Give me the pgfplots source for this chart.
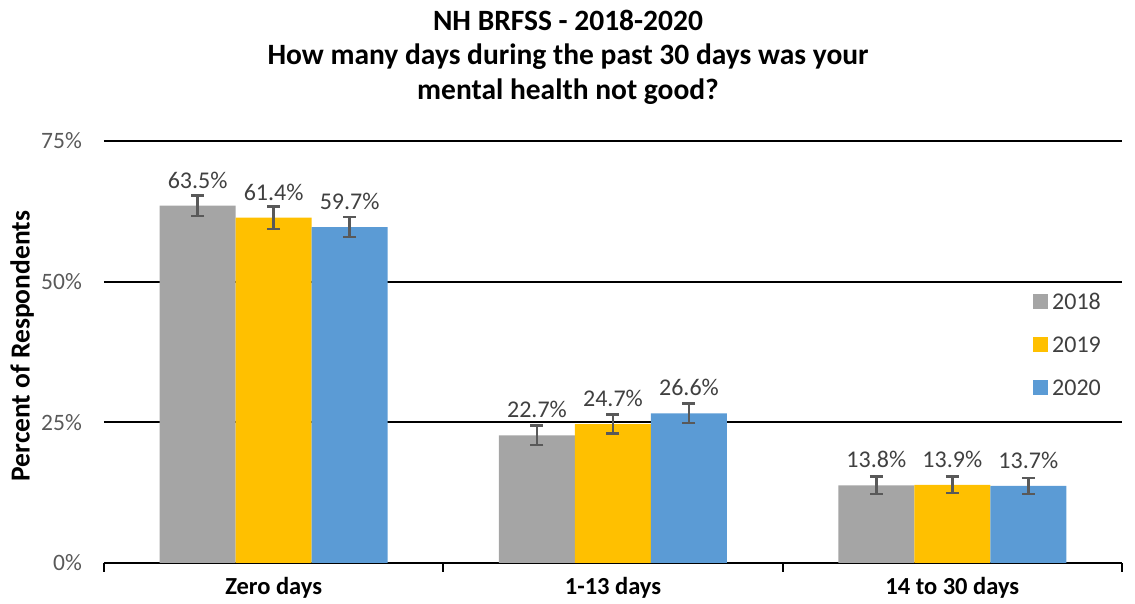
\documentclass[border=0pt]{standalone}
\usepackage{pgfplots}
\pgfplotsset{compat=1.18}
\usepackage{fontspec}
\setmainfont{Carlito}
\definecolor{c18}{HTML}{A5A5A5}
\definecolor{c19}{HTML}{FFC000}
\definecolor{c20}{HTML}{5B9BD5}
\definecolor{errc}{HTML}{595959}
\definecolor{tickc}{HTML}{595959}
\definecolor{lblc}{HTML}{404040}
\pgfplotstableread{
x y e
0 63.5 1.85
1 22.7 1.7
2 13.8 1.55
}\dataA
\pgfplotstableread{
x y e
0 61.4 2.0
1 24.7 1.7
2 13.9 1.5
}\dataB
\pgfplotstableread{
x y e
0 59.7 1.8
1 26.6 1.75
2 13.7 1.4
}\dataC
\begin{document}
\begin{tikzpicture}
\useasboundingbox (-104pt,-41pt) rectangle (1031pt,563pt);
\begin{axis}[
  at={(0pt,0pt)}, anchor=south west,
  scale only axis, width=1018pt, height=422pt,
  xmin=-0.5, xmax=2.5, ymin=0, ymax=75,
  clip=false,
  ybar=0pt, bar width=76pt,
  /pgf/number format/assume math mode=true,
  axis x line*=bottom, axis y line*=left,
  x axis line style={black, line width=2pt},
  y axis line style={draw=none},
  xtick={0,1,2}, xticklabels={Zero days,1-13 days,14 to 30 days},
  ytick={0,25,50,75}, yticklabels={0\%,25\%,50\%,75\%},
  major tick length=0pt,
  ytick style={draw=none},
  extra x ticks={-0.5,0.5,1.5,2.5}, extra x tick labels={},
  extra x tick style={major tick length=9pt, tick align=outside, tick style={black, line width=2pt}},
  ymajorgrids, major grid style={black, line width=2pt},
  xticklabel style={font=\fontsize{24.5}{28}\selectfont\bfseries, text=black, anchor=base, yshift=-32pt},
  yticklabel style={font=\fontsize{23.5}{27}\selectfont, text=tickc, anchor=east, inner sep=0pt, xshift=-22pt},
  ylabel={Percent of Respondents},
  ylabel style={font=\fontsize{27.5}{30}\selectfont\bfseries, at={(rel axis cs:-0.0805,0.514)}, rotate=0, anchor=center},
  point meta=y,
  nodes near coords={\pgfmathprintnumber[fixed,fixed zerofill,precision=1]{\pgfplotspointmeta}\%},
  every node near coord/.append style={font=\fontsize{24}{28}\selectfont, text=lblc, anchor=south, inner sep=0pt, yshift=17pt},
  legend style={draw=none, fill=none, at={(rel axis cs:0.9096,0.6457)}, anchor=north west,
    font=\fontsize{24}{28}\selectfont, text=lblc, row sep=26pt,
    nodes={inner sep=0pt, text height=17pt, text depth=0pt},
    /tikz/every odd column/.style={column sep=4pt}},
  legend cell align=left,
  legend image code/.code={\fill[#1] (0pt,-7.5pt) rectangle (15pt,7.5pt);},
  error bars/error bar style={errc, line width=2.5pt},
  error bars/error mark options={rotate=90, errc, mark size=6.5pt, line width=2.5pt},
]
\addplot[fill=c18, draw=none, error bars/.cd, y dir=both, y explicit] table[x=x,y=y,y error=e]{\dataA};
\addplot[fill=c19, draw=none, error bars/.cd, y dir=both, y explicit] table[x=x,y=y,y error=e]{\dataB};
\addplot[fill=c20, draw=none, error bars/.cd, y dir=both, y explicit] table[x=x,y=y,y error=e]{\dataC};
\legend{2018,2019,2020}
\node[font=\fontsize{29.5}{32}\selectfont\bfseries, anchor=base] at ([xshift=-45pt,yshift=111pt]rel axis cs:0.5,1) {NH BRFSS - 2018-2020};
\node[font=\fontsize{29.5}{32}\selectfont\bfseries, anchor=base] at ([xshift=-45pt,yshift=77pt]rel axis cs:0.5,1) {How many days during the past 30 days was your};
\node[font=\fontsize{29.5}{32}\selectfont\bfseries, anchor=base] at ([xshift=-45pt,yshift=42pt]rel axis cs:0.5,1) {mental health not good?};
\end{axis}
\end{tikzpicture}
\end{document}
